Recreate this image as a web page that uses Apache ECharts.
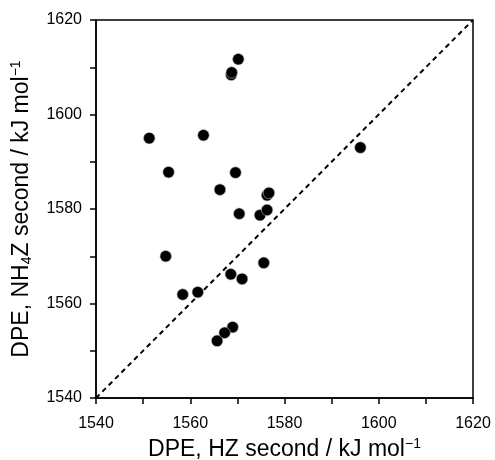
<!DOCTYPE html>
<html>
<head>
<meta charset="utf-8">
<script src="https://cdn.jsdelivr.net/npm/echarts@6/dist/echarts.min.js"></script>
<style>html,body{margin:0;padding:0;background:#fff}#c{width:495px;height:460px}</style>
</head>
<body>
<div id="c"></div>
<script>
// DPE values (kJ/mol): x = HZ second, y = NH4Z second
var hzSecond  = [1568.7, 1576.3, 1570.2, 1568.8, 1551.3, 1562.8, 1555.4, 1569.6, 1566.3, 1576.7, 1570.4, 1574.8, 1576.3, 1596.1, 1554.8, 1575.6, 1568.6, 1571.0, 1558.4, 1561.6, 1569.0, 1567.3, 1565.7];
var nh4zSecond = [1608.4, 1582.9, 1611.7, 1608.9, 1595.0, 1595.6, 1587.8, 1587.7, 1584.1, 1583.4, 1579.0, 1578.7, 1579.8, 1593.0, 1570.0, 1568.6, 1566.2, 1565.2, 1561.9, 1562.4, 1555.0, 1553.8, 1552.1];
var axisMin = 1540, axisMax = 1620, tickStep = 10, labelStep = 20;
var parityLine = [[1540, 1540], [1620, 1620]];

var points = hzSecond.map(function (x, i) { return [x, nh4zSecond[i]]; });
var font = '"Liberation Sans", Arial, sans-serif';

function axisCommon(nameRich) {
  return {
    type: 'value', min: axisMin, max: axisMax, interval: tickStep,
    axisLine: { show: true, lineStyle: { color: '#000', width: 1.5 } },
    axisTick: { show: true, inside: false, length: 6, lineStyle: { color: '#000', width: 1.5 } },
    axisLabel: {
      color: '#000', fontSize: 16, fontFamily: font,
      formatter: function (v) { return (v % labelStep === 0) ? String(v) : ''; }
    },
    splitLine: { show: false },
    name: nameRich, nameLocation: 'middle',
    nameTextStyle: {
      color: '#000', fontSize: 23, fontFamily: font, lineHeight: 25,
      rich: {
        sup: { fontSize: 14, fontFamily: font, color: '#000', verticalAlign: 'top', lineHeight: 15 },
        sub: { fontSize: 14, fontFamily: font, color: '#000', verticalAlign: 'bottom', lineHeight: 15 }
      }
    }
  };
}

var xAxis = axisCommon('DPE, HZ second / kJ mol{sup|\u22121}');
xAxis.nameGap = 38;
xAxis.axisLabel.margin = 18;
var yAxis = axisCommon('DPE, NH{sub|4}Z second / kJ mol{sup|\u22121}');
yAxis.nameGap = 62;
yAxis.axisLabel.margin = 14;

var chart = echarts.init(document.getElementById('c'), null, { renderer: 'canvas' });
chart.setOption({
  animation: false,
  backgroundColor: '#fff',
  grid: { left: 96, right: 22, top: 20, bottom: 62, containLabel: false, outerBoundsMode: 'none',
          show: true, borderColor: '#000', borderWidth: 1.5, backgroundColor: 'transparent' },
  xAxis: xAxis,
  yAxis: yAxis,
  series: [
    {
      type: 'line', data: parityLine, symbol: 'none', silent: true,
      lineStyle: { color: '#000', width: 2, type: [5, 4] }, z: 1
    },
    {
      type: 'scatter', data: points, symbol: 'circle', symbolSize: 11.5,
      itemStyle: { color: '#000', borderColor: '#bbb', borderWidth: 0.6, opacity: 1 }, z: 2
    }
  ]
});
</script>
</body>
</html>
